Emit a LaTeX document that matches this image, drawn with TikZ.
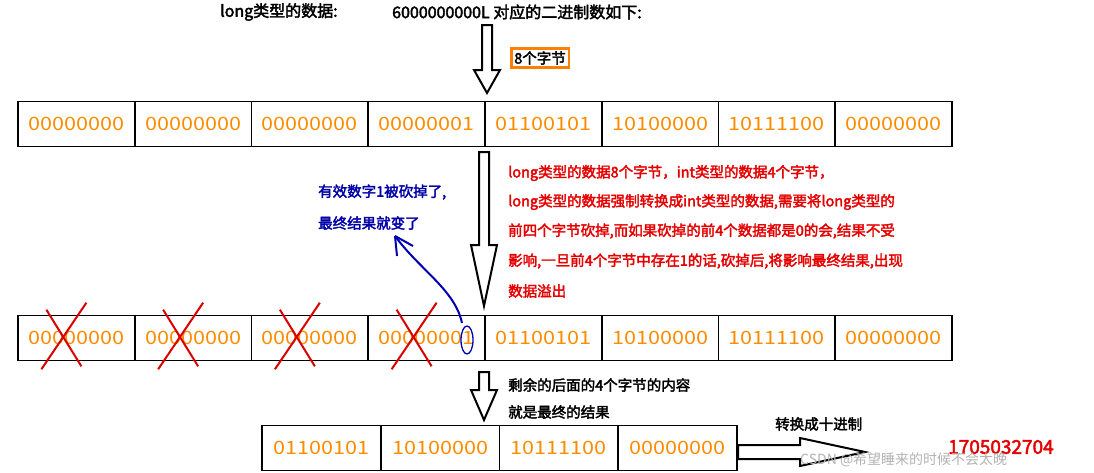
\documentclass[tikz,border=0pt]{standalone}
\usepackage{fontspec}
\setmainfont{Noto Sans CJK SC}[BoldFont={Noto Sans CJK SC},BoldFeatures={FakeBold=2.5}]
\begin{document}
\begin{tikzpicture}[x=1pt,y=-1pt,
  cell/.style={draw=black,line width=1.6pt,minimum height=45pt,inner sep=0pt,text=orange!90!yellow,font=\fontsize{16}{16}\selectfont},
  hollow/.style={draw=black,line width=2pt,fill=white,line join=miter},
  redt/.style={anchor=west,text=red!90!black,font=\bfseries\fontsize{14.5}{14.5}\selectfont,inner sep=0pt},
  blackt/.style={anchor=west,font=\bfseries\fontsize{14.5}{14.5}\selectfont,inner sep=0pt},
  bluet/.style={anchor=west,text=blue!65!black,font=\bfseries\fontsize{14.5}{14.5}\selectfont,inner sep=0pt},
  xmark/.style={draw=red!85!black,line width=2pt}]
\useasboundingbox (0,0) rectangle (1094,472);
% titles
\node[blackt,font=\bfseries\fontsize{16}{16}\selectfont] (t1) at (220,12) {long类型的数据:};
\node[blackt,font=\bfseries\fontsize{16}{16}\selectfont] (t2) at (392,12) {6000000000L 对应的二进制数如下:};
\node[blackt,draw=orange,line width=2.5pt,inner sep=3pt] (b8) at (510,58) {8个字节};
% arrows
\draw[hollow] (482,25)--(492,25)--(492,70)--(500,70)--(487,93)--(474,70)--(482,70)--cycle;
\draw[hollow] (479,152)--(489,152)--(489,245)--(497,245)--(484,306)--(471,245)--(479,245)--cycle;
\draw[hollow] (479,372)--(489,372)--(489,390)--(497,390)--(484,420)--(471,390)--(479,390)--cycle;
\draw[hollow] (738,445)--(800,445)--(800,438)--(865,452)--(800,466)--(800,459)--(738,459)--cycle;
% row 1
\foreach \v [count=\i] in {00000000,00000000,00000000,00000001,01100101,10100000,10111100,00000000}
  \node[cell,minimum width=116.75pt] (a\i) at ({18+116.75*(\i-0.5)},124) {\scalebox{1.35}[1.15]{\v}};
% row 2
\foreach \v [count=\i] in {00000000,00000000,00000000,00000001,01100101,10100000,10111100,00000000}
  \node[cell,minimum width=116.75pt] (c\i) at ({18+116.75*(\i-0.5)},338) {\scalebox{1.35}[1.15]{\v}};
% crosses
\foreach \i in {1,2,3,4}{
  \draw[xmark] ([xshift=-30pt,yshift=5pt]c\i.north) -- ([xshift=5pt,yshift=-5pt]c\i.south);
  \draw[xmark] ([xshift=-35pt,yshift=-8pt]c\i.south) -- ([xshift=10pt,yshift=12pt]c\i.north);
}
% row 3
\foreach \v [count=\i] in {01100101,10100000,10111100,00000000}
  \node[cell,minimum width=118.75pt] (d\i) at ({262+118.75*(\i-0.5)},448) {\scalebox{1.35}[1.15]{\v}};
% red text
\node[redt] (r1) at (508,173) {long类型的数据8个字节，int类型的数据4个字节，};
\node[redt] (r2) at (508,202) {long类型的数据强制转换成int类型的数据,需要将long类型的};
\node[redt] (r3) at (508,231) {前四个字节砍掉,而如果砍掉的前4个数据都是0的会,结果不受};
\node[redt] (r4) at (508,261) {影响,一旦前4个字节中存在1的话,砍掉后,将影响最终结果,出现};
\node[redt] (r5) at (508,291) {数据溢出};
% blue
\node[bluet] (u1) at (318,192) {有效数字1被砍掉了,};
\node[bluet] (u2) at (318,223) {最终结果就变了};
\draw[blue!70!black,line width=1.3pt] (467,340) ellipse (6 and 14);
\coordinate (bs) at (462,323);
\coordinate (be) at (395,236);
\draw[blue!70!black,line width=2pt] (bs) .. controls (455,290) and (420,270) .. (be);
\draw[blue!70!black,line width=2pt] (be) -- (397,256);
\draw[blue!70!black,line width=2pt] (be) -- (413,246);
% bottom texts
\node[blackt] (s1) at (508,385) {剩余的后面的4个字节的内容};
\node[blackt] (s2) at (508,412) {就是最终的结果};
\node[blackt] (s3) at (775,424) {转换成十进制};
\node[anchor=west,text=red!90!black,font=\bfseries\fontsize{19}{19}\selectfont,inner sep=0pt] (res) at (948,447) {1705032704};
\node[anchor=west,text=gray!60,font=\fontsize{14}{14}\selectfont,inner sep=0pt] (wm) at (800,460) {CSDN @希望睡来的时候不会太晚};
\end{tikzpicture}
\end{document}
